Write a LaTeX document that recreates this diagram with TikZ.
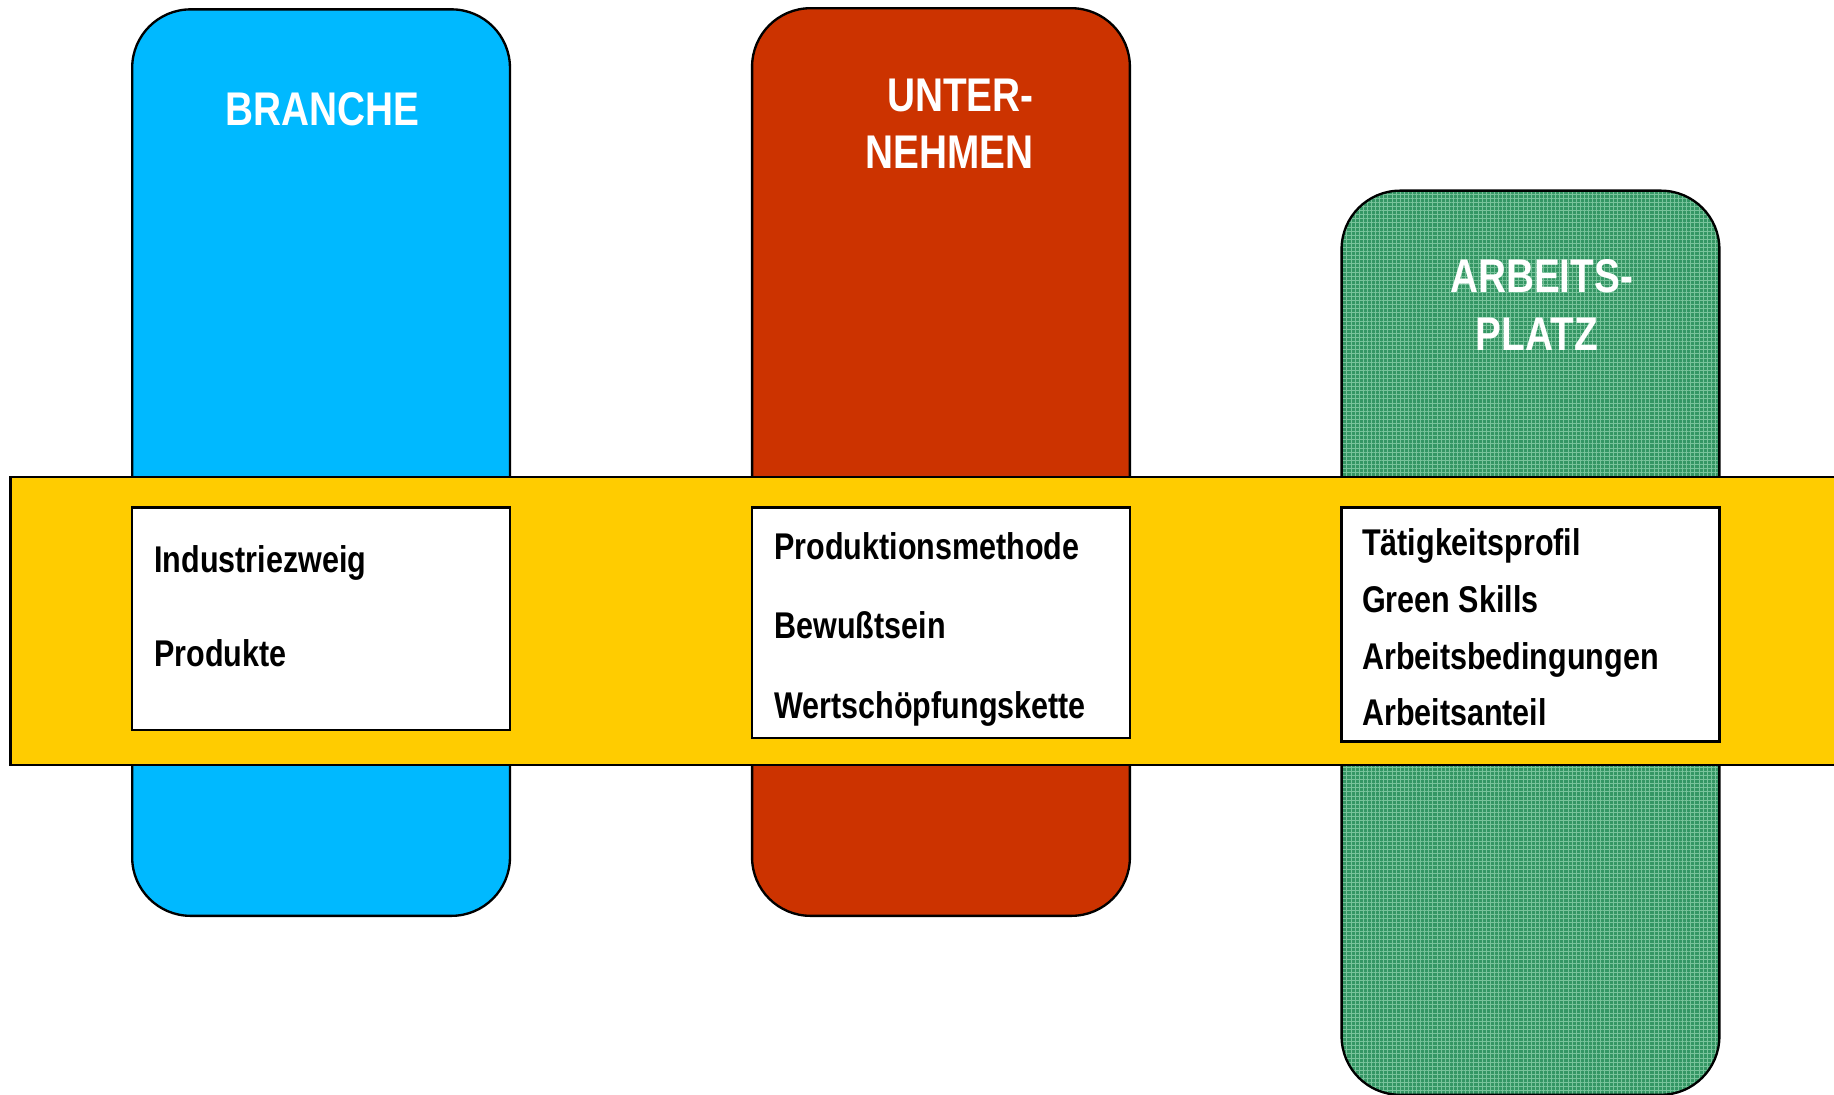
\documentclass[tikz,border=0pt]{standalone}
\usepackage{fontspec}
\setmainfont{Liberation Sans}[FakeStretch=0.82]
\usetikzlibrary{patterns.meta}
\definecolor{brancheblue}{RGB}{0,185,255}
\definecolor{firmared}{RGB}{204,51,0}
\definecolor{platzgreen}{RGB}{52,150,100}
\definecolor{gridgreen}{RGB}{120,195,155}
\definecolor{bandyellow}{RGB}{255,204,0}

\begin{document}
\begin{tikzpicture}[x=0.2mm, y=-0.2mm,
    column/.style={draw=black, line width=0.4mm, rounded corners=10mm},
    itembox/.style={draw=black, line width=0.4mm, fill=white},
    title/.style={text=white, inner sep=0pt, font=\fontsize{23}{28}\selectfont\bfseries},
    item/.style={anchor=base west, inner sep=0pt, font=\fontsize{18.1}{22}\selectfont\bfseries}]
    \useasboundingbox (0,0) rectangle (1568,936);
    \clip (0,0) rectangle (1568,936);
    % the three columns
    \path[column, fill=brancheblue] (113,8) rectangle (436,783);
    \path[column, fill=firmared] (643,7) rectangle (966,783);
    \path[preaction={fill=platzgreen},
          preaction={pattern={Lines[distance=0.7mm, line width=0.13mm]}, pattern color=gridgreen},
          preaction={pattern={Lines[distance=0.7mm, angle=90, line width=0.13mm]}, pattern color=gridgreen},
          column] (1147,163) rectangle (1470,936);
    % the band across
    \draw[line width=0.4mm, fill=bandyellow] (9,408) rectangle (1590,654);
    \path[itembox] (113,434) rectangle (436,624);
    \path[itembox] (643,434) rectangle (966,631);
    \path[itembox] (1147,434) rectangle (1470,634);
    % titles
    \node[title, anchor=base] (branche) at (275.7,106.9) {BRANCHE};
    \node[title, anchor=base east] (firma-1) at (884,95.5) {UNTER-};
    \node[title, anchor=base east] (firma-2) at (884,143.9) {NEHMEN};
    \node[title, anchor=base] (platz-1) at (1318,250) {ARBEITS-};
    \node[title, anchor=base] (platz-2) at (1314,299.8) {PLATZ};
    % items
    \foreach \t [count=\i] / \y in {Industriezweig/489.6, Produkte/570}
      \node[item] (branche-\i) at (131.7,\y) {\t};
    \foreach \t [count=\i] / \y in {Produktionsmethode/478.2, Bewußtsein/545.8, Wertschöpfungskette/614.2}
      \node[item] (firma-item-\i) at (661.8,\y) {\t};
    \foreach \t [count=\i] / \y in {Tätigkeitsprofil/474.5, Green Skills/524, Arbeitsbedingungen/572, Arbeitsanteil/620}
      \node[item] (platz-item-\i) at (1164.2,\y) {\t};
\end{tikzpicture}
\end{document}
